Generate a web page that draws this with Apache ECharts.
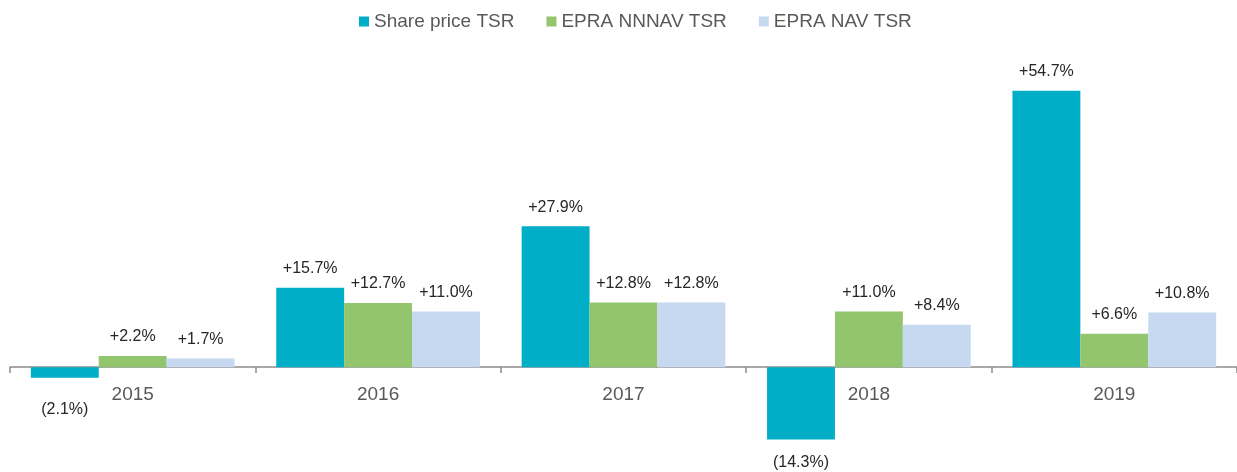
<!DOCTYPE html>
<html>
<head>
<meta charset="utf-8">
<script src="https://cdn.jsdelivr.net/npm/echarts@6/dist/echarts.min.js"></script>
<style>
  html, body { margin: 0; padding: 0; background: #fff; }
  #chart { width: 1237px; height: 472px; }
</style>
</head>
<body>
<div id="chart"></div>
<script>
const years = ["2015", "2016", "2017", "2018", "2019"];
const sharePrice = [-2.1, 15.7, 27.9, -14.3, 54.7];
const nnnav = [2.2, 12.7, 12.8, 11.0, 6.6];
const nav = [1.7, 11.0, 12.8, 8.4, 10.8];

const font = "Liberation Sans, Arial, sans-serif";

function fmt(p) {
  const v = p.value;
  return v >= 0 ? "+" + v.toFixed(1) + "%" : "(" + Math.abs(v).toFixed(1) + "%)";
}

function toItems(arr) {
  return arr.map((v) => {
    if (v >= 0) return { value: v, label: { position: "top", distance: 11 } };
    // negative labels sit below the bar; the small one is pushed past the year label
    return { value: v, label: { position: "bottom", distance: v > -5 ? 24 : 15 } };
  });
}

const myChart = echarts.init(document.getElementById("chart"));

const labelStyle = {
  show: true,
  formatter: fmt,
  color: "#262626",
  fontSize: 16,
  fontFamily: font,
};

// y scale: -15 .. 60, zero line sits at y=367
const gridTop = 64;
const gridBottom = 29;
const zeroOffset = 472 - gridBottom - 367;

const option = {
  animation: false,
  legend: {
    top: 7,
    left: 354,
    itemWidth: 10,
    itemHeight: 10,
    itemGap: 32,
    icon: "rect",
    textStyle: { color: "#595959", fontSize: 19, fontFamily: font },
    data: ["Share price TSR", "EPRA NNNAV TSR", "EPRA NAV TSR"],
  },
  grid: { left: 10, right: 0, top: gridTop, bottom: gridBottom, outerBoundsMode: "none" },
  xAxis: {
    type: "category",
    data: years,
    offset: -zeroOffset,
    axisLine: { onZero: false, lineStyle: { color: "#8c8c8c", width: 1.5 } },
    axisTick: { show: true, length: 6, lineStyle: { color: "#8c8c8c", width: 1.5 } },
    axisLabel: { margin: 18, color: "#595959", fontSize: 19, fontFamily: font },
  },
  yAxis: {
    type: "value",
    min: -15,
    max: 60,
    show: false,
    splitLine: { show: false },
  },
  series: [
    {
      name: "Share price TSR",
      type: "bar",
      data: toItems(sharePrice),
      barGap: "0%",
      barCategoryGap: "17%",
      itemStyle: { color: "#00AEC7" },
      label: labelStyle,
    },
    {
      name: "EPRA NNNAV TSR",
      type: "bar",
      data: toItems(nnnav),
      barGap: "0%",
      barCategoryGap: "17%",
      itemStyle: { color: "#92C56E" },
      label: labelStyle,
    },
    {
      name: "EPRA NAV TSR",
      type: "bar",
      data: toItems(nav),
      barGap: "0%",
      barCategoryGap: "17%",
      itemStyle: { color: "#C6D9F1" },
      label: labelStyle,
    },
  ],
};

myChart.setOption(option);
</script>
</body>
</html>
